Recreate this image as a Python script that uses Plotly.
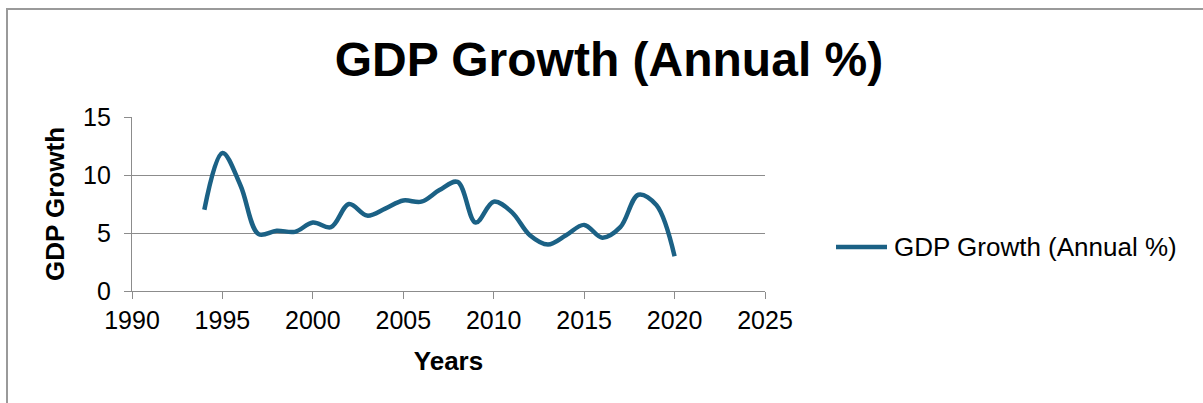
import plotly.graph_objects as go

# Annual GDP growth series
years = [1994, 1995, 1996, 1997, 1998, 1999, 2000, 2001, 2002, 2003, 2004,
         2005, 2006, 2007, 2008, 2009, 2010, 2011, 2012, 2013, 2014, 2015,
         2016, 2017, 2018, 2019, 2020]
gdp_growth = [7.0, 11.9, 9.1, 4.9, 5.2, 5.1, 5.9, 5.5, 7.5, 6.5, 7.1,
              7.8, 7.7, 8.7, 9.4, 5.9, 7.7, 6.8, 4.8, 4.0, 4.8, 5.7,
              4.6, 5.5, 8.3, 7.4, 3.0]

x_ticks = [1990, 1995, 2000, 2005, 2010, 2015, 2020, 2025]
y_ticks = [0, 5, 10, 15]

series_name = "GDP Growth (Annual %)"
line_color = "#1b6185"
grid_color = "#8c8c8c"
font_family = "Liberation Sans, Arial, sans-serif"

# plot area in pixels
W, H = 1203, 403
L, R, T, B = 132, 765, 117, 291


def px_x(p):
    return (p - L) / (R - L)


def px_y(p):
    return (B - p) / (B - T)


fig = go.Figure()
fig.add_trace(go.Scatter(
    x=years, y=gdp_growth, mode="lines", name=series_name,
    line=dict(color=line_color, width=4.5, shape="spline", smoothing=1.0),
    showlegend=False,
))

axis_common = dict(
    showline=True, linecolor=grid_color, linewidth=1.2,
    ticks="outside", ticklen=7, tickcolor=grid_color, tickwidth=1.2,
    tickfont=dict(family=font_family, size=25, color="#000000"),
    zeroline=False,
)

fig.update_xaxes(
    range=[1990, 2025], tickvals=x_ticks, showgrid=False,
    title=dict(text="<b>Years</b>", standoff=18,
               font=dict(family=font_family, size=26, color="#000000")),
    **axis_common,
)
fig.update_yaxes(
    range=[0, 15], tickvals=y_ticks, showgrid=True,
    gridcolor=grid_color, gridwidth=1.2,
    title=dict(text="<b>GDP Growth</b>", standoff=10,
               font=dict(family=font_family, size=26, color="#000000")),
    ticklabelstandoff=8,
    **axis_common,
)

# outer chart border
fig.add_shape(type="rect", xref="paper", yref="paper",
              x0=px_x(7), x1=px_x(1260), y0=px_y(460), y1=px_y(9),
              line=dict(color="#9a9a9a", width=2), layer="below")

# legend entry
fig.add_shape(type="line", xref="paper", yref="paper",
              x0=px_x(836), x1=px_x(887), y0=px_y(247), y1=px_y(247),
              line=dict(color=line_color, width=4.5))
fig.add_annotation(xref="paper", yref="paper", x=px_x(892), y=px_y(247),
                   text=series_name, showarrow=False,
                   xanchor="left", yanchor="middle",
                   font=dict(family=font_family, size=26, color="#000000"))

fig.update_layout(
    width=W, height=H,
    margin=dict(l=L, r=W - R, t=T, b=H - B),
    paper_bgcolor="white", plot_bgcolor="white",
    title=dict(text="<b>GDP Growth (Annual %)</b>", x=609 / W, xanchor="center",
               y=1 - 59 / H, yanchor="middle", xref="container", yref="container",
               font=dict(family=font_family, size=48, color="#000000")),
)

fig.write_html("out.html")
